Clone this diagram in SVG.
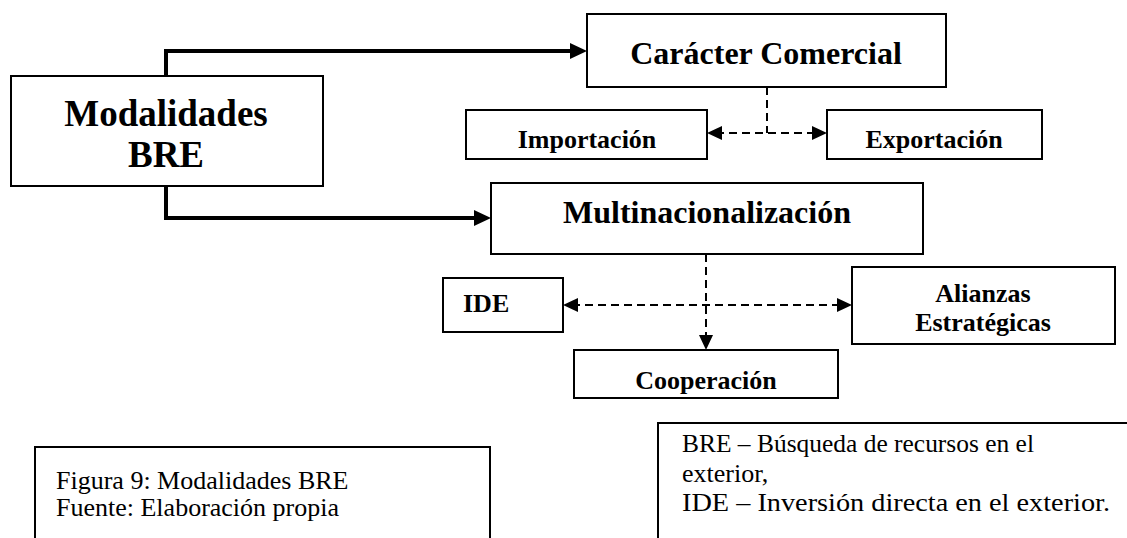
<svg xmlns="http://www.w3.org/2000/svg" width="1127" height="538" viewBox="0 0 1127 538">
  <defs>
    <style>
      .box { fill: #fff; stroke: #000; stroke-width: 2; }
      .open { fill: none; stroke: #000; stroke-width: 2; }
      .t { font-family: "Liberation Serif", "Times New Roman", serif; fill: #000; }
      .b { font-weight: bold; text-anchor: middle; }
      .big { font-size: 37px; }
      .mid { font-size: 32px; }
      .sm { font-size: 26px; }
      .note { font-size: 26px; }
      .solid { fill: none; stroke: #000; stroke-width: 4; }
      .dash { fill: none; stroke: #000; stroke-width: 2; stroke-dasharray: 8 5; }
    </style>
    <marker id="head" markerUnits="userSpaceOnUse" markerWidth="17" markerHeight="16" refX="7" refY="8" orient="auto">
      <path d="M0,0 L17,8 L0,16 Z" fill="#000"/>
    </marker>
    <marker id="headD" markerUnits="userSpaceOnUse" markerWidth="15" markerHeight="14" refX="6" refY="7" orient="auto-start-reverse">
      <path d="M0,0 L15,7 L0,14 Z" fill="#000"/>
    </marker>
  </defs>

  <rect width="1127" height="538" fill="#fff"/>

  <!-- connectors -->
  <g id="connectors">
    <path class="solid" d="M166,76 V51 H577" marker-end="url(#head)"/>
    <path class="solid" d="M166,186 V218 H481" marker-end="url(#head)"/>
    <path class="dash" d="M767,87 V133"/>
    <path class="dash" d="M716,133 H818" marker-start="url(#headD)" marker-end="url(#headD)"/>
    <path class="dash" d="M706,254 V341" marker-end="url(#headD)"/>
    <path class="dash" d="M572,305 H843" marker-start="url(#headD)" marker-end="url(#headD)"/>
  </g>

  <g id="modalidades">
    <rect class="box" x="11" y="76" width="312" height="110"/>
    <text class="t b big" x="166" y="126">Modalidades</text>
    <text class="t b big" x="166" y="167">BRE</text>
  </g>

  <g id="caracter">
    <rect class="box" x="587" y="14" width="359" height="73"/>
    <text class="t b mid" x="766" y="64">Carácter Comercial</text>
  </g>

  <g id="importacion">
    <rect class="box" x="466" y="110" width="241" height="49"/>
    <text class="t b sm" x="587" y="148">Importación</text>
  </g>

  <g id="exportacion">
    <rect class="box" x="827" y="110" width="215" height="49"/>
    <text class="t b sm" x="934" y="148">Exportación</text>
  </g>

  <g id="multinacionalizacion">
    <rect class="box" x="491" y="183" width="432" height="71"/>
    <text class="t b mid" x="707" y="223">Multinacionalización</text>
  </g>

  <g id="ide">
    <rect class="box" x="443" y="278" width="120" height="54"/>
    <text class="t sm" font-weight="bold" x="463" y="312">IDE</text>
  </g>

  <g id="alianzas">
    <rect class="box" x="852" y="267" width="263" height="77"/>
    <text class="t b sm" x="983" y="302">Alianzas</text>
    <text class="t b sm" x="983" y="331">Estratégicas</text>
  </g>

  <g id="cooperacion">
    <rect class="box" x="574" y="350" width="264" height="48"/>
    <text class="t b sm" x="706" y="389">Cooperación</text>
  </g>

  <g id="caption">
    <path class="open" d="M35,540 V447 H490 V540"/>
    <text class="t note" x="56" y="489">Figura 9: Modalidades BRE</text>
    <text class="t note" x="56" y="516">Fuente: Elaboración propia</text>
  </g>

  <g id="glossary">
    <path class="open" d="M658,540 V423 H1130"/>
    <text class="t note" x="682" y="452" textLength="352" lengthAdjust="spacingAndGlyphs">BRE – Búsqueda de recursos en el</text>
    <text class="t note" x="682" y="482">exterior,</text>
    <text class="t note" x="682" y="511" textLength="428" lengthAdjust="spacingAndGlyphs">IDE – Inversión directa en el exterior.</text>
  </g>
</svg>
